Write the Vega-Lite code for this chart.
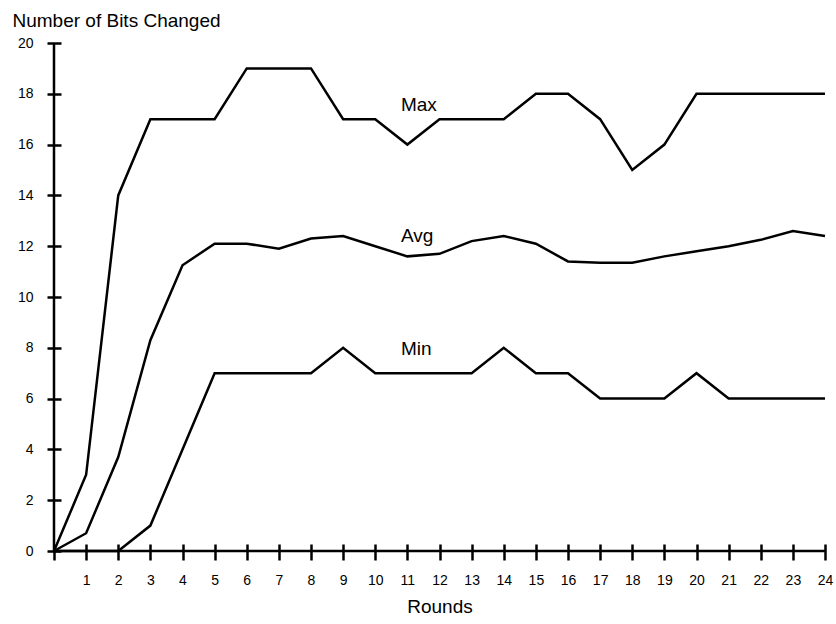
{
  "$schema": "https://vega.github.io/schema/vega-lite/v6.json",
  "width": 771,
  "height": 508,
  "autosize": {"type": "none"},
  "padding": {"left": 54, "top": 43, "right": 11, "bottom": 73},
  "background": "white",
  "config": {
    "view": {"stroke": null},
    "font": "Liberation Sans",
    "axisX": {
      "tickCount": 24,
      "labelExpr": "datum.value == 0 ? '' : datum.label",
      "domain": false,
      "grid": false,
      "offset": -7,
      "tickSize": 16,
      "tickWidth": 2.5,
      "tickColor": "black",
      "labelFont": "Liberation Sans",
      "labelFontSize": 14,
      "labelColor": "black",
      "labelPadding": 13,
      "labelFlush": false,
      "labelOverlap": false,
      "titleFont": "Liberation Sans",
      "titleFontSize": 19,
      "titleFontWeight": "normal",
      "titleColor": "black",
      "titlePadding": 10
    },
    "axisY": {
      "tickCount": 10,
      "domain": false,
      "grid": false,
      "offset": -7,
      "tickSize": 14,
      "tickWidth": 2.5,
      "tickColor": "black",
      "labelFont": "Liberation Sans",
      "labelFontSize": 14,
      "labelColor": "black",
      "labelPadding": 14,
      "labelFlush": false,
      "labelOverlap": false,
      "titleFont": "Liberation Sans",
      "titleFontSize": 19,
      "titleFontWeight": "normal",
      "titleColor": "black",
      "titleAngle": 0,
      "titleAlign": "left",
      "titleBaseline": "alphabetic",
      "titleX": -49,
      "titleY": -17
    }
  },
  "datasets": {
    "series": [
      {"Round": 0, "Bits": 0, "Series": "Max"},
      {"Round": 1, "Bits": 3, "Series": "Max"},
      {"Round": 2, "Bits": 14, "Series": "Max"},
      {"Round": 3, "Bits": 17, "Series": "Max"},
      {"Round": 4, "Bits": 17, "Series": "Max"},
      {"Round": 5, "Bits": 17, "Series": "Max"},
      {"Round": 6, "Bits": 19, "Series": "Max"},
      {"Round": 7, "Bits": 19, "Series": "Max"},
      {"Round": 8, "Bits": 19, "Series": "Max"},
      {"Round": 9, "Bits": 17, "Series": "Max"},
      {"Round": 10, "Bits": 17, "Series": "Max"},
      {"Round": 11, "Bits": 16, "Series": "Max"},
      {"Round": 12, "Bits": 17, "Series": "Max"},
      {"Round": 13, "Bits": 17, "Series": "Max"},
      {"Round": 14, "Bits": 17, "Series": "Max"},
      {"Round": 15, "Bits": 18, "Series": "Max"},
      {"Round": 16, "Bits": 18, "Series": "Max"},
      {"Round": 17, "Bits": 17, "Series": "Max"},
      {"Round": 18, "Bits": 15, "Series": "Max"},
      {"Round": 19, "Bits": 16, "Series": "Max"},
      {"Round": 20, "Bits": 18, "Series": "Max"},
      {"Round": 21, "Bits": 18, "Series": "Max"},
      {"Round": 22, "Bits": 18, "Series": "Max"},
      {"Round": 23, "Bits": 18, "Series": "Max"},
      {"Round": 24, "Bits": 18, "Series": "Max"},
      {"Round": 0, "Bits": 0, "Series": "Avg"},
      {"Round": 1, "Bits": 0.7, "Series": "Avg"},
      {"Round": 2, "Bits": 3.7, "Series": "Avg"},
      {"Round": 3, "Bits": 8.3, "Series": "Avg"},
      {"Round": 4, "Bits": 11.25, "Series": "Avg"},
      {"Round": 5, "Bits": 12.1, "Series": "Avg"},
      {"Round": 6, "Bits": 12.1, "Series": "Avg"},
      {"Round": 7, "Bits": 11.9, "Series": "Avg"},
      {"Round": 8, "Bits": 12.3, "Series": "Avg"},
      {"Round": 9, "Bits": 12.4, "Series": "Avg"},
      {"Round": 10, "Bits": 12.0, "Series": "Avg"},
      {"Round": 11, "Bits": 11.6, "Series": "Avg"},
      {"Round": 12, "Bits": 11.7, "Series": "Avg"},
      {"Round": 13, "Bits": 12.2, "Series": "Avg"},
      {"Round": 14, "Bits": 12.4, "Series": "Avg"},
      {"Round": 15, "Bits": 12.1, "Series": "Avg"},
      {"Round": 16, "Bits": 11.4, "Series": "Avg"},
      {"Round": 17, "Bits": 11.35, "Series": "Avg"},
      {"Round": 18, "Bits": 11.35, "Series": "Avg"},
      {"Round": 19, "Bits": 11.6, "Series": "Avg"},
      {"Round": 20, "Bits": 11.8, "Series": "Avg"},
      {"Round": 21, "Bits": 12.0, "Series": "Avg"},
      {"Round": 22, "Bits": 12.25, "Series": "Avg"},
      {"Round": 23, "Bits": 12.6, "Series": "Avg"},
      {"Round": 24, "Bits": 12.4, "Series": "Avg"},
      {"Round": 0, "Bits": 0, "Series": "Min"},
      {"Round": 1, "Bits": 0, "Series": "Min"},
      {"Round": 2, "Bits": 0, "Series": "Min"},
      {"Round": 3, "Bits": 1, "Series": "Min"},
      {"Round": 4, "Bits": 4, "Series": "Min"},
      {"Round": 5, "Bits": 7, "Series": "Min"},
      {"Round": 6, "Bits": 7, "Series": "Min"},
      {"Round": 7, "Bits": 7, "Series": "Min"},
      {"Round": 8, "Bits": 7, "Series": "Min"},
      {"Round": 9, "Bits": 8, "Series": "Min"},
      {"Round": 10, "Bits": 7, "Series": "Min"},
      {"Round": 11, "Bits": 7, "Series": "Min"},
      {"Round": 12, "Bits": 7, "Series": "Min"},
      {"Round": 13, "Bits": 7, "Series": "Min"},
      {"Round": 14, "Bits": 8, "Series": "Min"},
      {"Round": 15, "Bits": 7, "Series": "Min"},
      {"Round": 16, "Bits": 7, "Series": "Min"},
      {"Round": 17, "Bits": 6, "Series": "Min"},
      {"Round": 18, "Bits": 6, "Series": "Min"},
      {"Round": 19, "Bits": 6, "Series": "Min"},
      {"Round": 20, "Bits": 7, "Series": "Min"},
      {"Round": 21, "Bits": 6, "Series": "Min"},
      {"Round": 22, "Bits": 6, "Series": "Min"},
      {"Round": 23, "Bits": 6, "Series": "Min"},
      {"Round": 24, "Bits": 6, "Series": "Min"}
    ],
    "labels": [
      {"Round": 10.8, "Bits": 17.34, "Label": "Max"},
      {"Round": 10.8, "Bits": 12.18, "Label": "Avg"},
      {"Round": 10.8, "Bits": 7.72, "Label": "Min"}
    ]
  },
  "layer": [
    {
      "data": {"name": "series"},
      "mark": {"type": "line", "strokeWidth": 2.5, "color": "black"},
      "encoding": {
        "x": {
          "field": "Round",
          "type": "quantitative",
          "scale": {"domain": [0, 24], "nice": false, "zero": true},
          "axis": {"title": "Rounds"}
        },
        "y": {
          "field": "Bits",
          "type": "quantitative",
          "scale": {"domain": [0, 20], "nice": false},
          "axis": {"title": "Number of Bits Changed"}
        },
        "detail": {"field": "Series", "type": "nominal"}
      }
    },
    {
      "data": {"values": [{}]},
      "mark": {"type": "rule", "strokeWidth": 2.5, "color": "black"},
      "encoding": {
        "x": {"datum": 0, "type": "quantitative"},
        "y": {"datum": 0, "type": "quantitative"},
        "y2": {"datum": 20}
      }
    },
    {
      "data": {"values": [{}]},
      "mark": {"type": "rule", "strokeWidth": 2.5, "color": "black"},
      "encoding": {
        "x": {"datum": 0, "type": "quantitative"},
        "x2": {"datum": 24},
        "y": {"datum": 0, "type": "quantitative"}
      }
    },
    {
      "data": {"name": "labels"},
      "mark": {"type": "text", "align": "left", "baseline": "alphabetic", "fontSize": 19, "font": "Liberation Sans", "color": "black"},
      "encoding": {
        "x": {"field": "Round", "type": "quantitative"},
        "y": {"field": "Bits", "type": "quantitative"},
        "text": {"field": "Label", "type": "nominal"}
      }
    }
  ]
}
